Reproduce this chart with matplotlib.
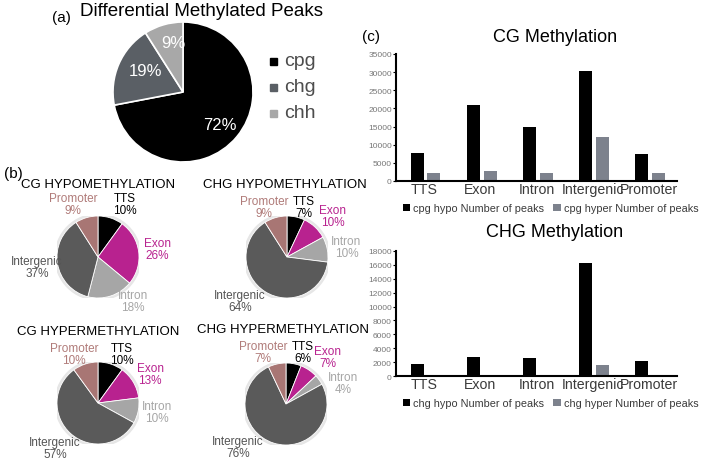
import matplotlib.pyplot as plt
import numpy as np

plt.rcParams['font.family'] = ['Liberation Sans', 'DejaVu Sans']

W, H = 709, 460

# (a) donnees globales
types = ['cpg', 'chg', 'chh']
type_pct = [72, 19, 9]
type_colors = ['#000000', '#5a5f65', '#a8a8a8']

# (b) repartition par region
regions = ['TTS', 'Exon', 'Intron', 'Intergenic', 'Promoter']
cg_hypo_pct = [10, 26, 18, 37, 9]
chg_hypo_pct = [7, 10, 10, 64, 9]
cg_hyper_pct = [10, 13, 10, 57, 10]
chg_hyper_pct = [6, 7, 4, 76, 7]
region_colors = ['#000000', '#b8228f', '#a6a6a6', '#5a5a5a', '#a87674']
label_colors = ['#000000', '#b8228f', '#a6a6a6', '#555555', '#b07b79']

# (c) nombre de pics
cpg_hypo = [7800, 21000, 14800, 30300, 7400]
cpg_hyper = [2100, 2800, 2200, 12000, 2300]
chg_hypo = [1800, 2700, 2650, 16300, 2200]
chg_hyper = [200, 200, 150, 1600, 200]

fig = plt.figure(figsize=(W / 100, H / 100), dpi=100)


def px_axes(x0, y0, x1, y1):
    # axes a partir de coordonnees en pixels (origine en haut a gauche)
    return fig.add_axes([x0 / W, 1 - y1 / H, (x1 - x0) / W, (y1 - y0) / H])


def pie_axes(cx, cy, r):
    ax = px_axes(cx - r, cy - r, cx + r, cy + r)
    return ax


# ---- (a) ----
fig.text(52 / W, 1 - 18 / H, '(a)', fontsize=11, ha='left', va='center')
fig.text(202 / W, 1 - 12 / H, 'Differential Methylated Peaks', fontsize=13.5,
         ha='center', va='center')
ax = pie_axes(183, 93, 70)
ax.pie(type_pct, colors=type_colors, startangle=90, counterclock=False,
       wedgeprops=dict(edgecolor='white', linewidth=1.2))
ax.set_xlim(-1, 1)
ax.set_ylim(-1, 1)
for txt, (x, y) in zip(['72%', '19%', '9%'], [(0.53, -0.46), (-0.53, 0.30), (-0.14, 0.71)]):
    ax.text(x, y, txt, color='white', fontsize=12, ha='center', va='center')
for i, (t, c) in enumerate(zip(types, type_colors)):
    yy = 62 + i * 26
    fig.patches.append(plt.Rectangle(((270) / W, 1 - (yy + 4) / H), 7 / W, 7 / H,
                                     transform=fig.transFigure, color=c))
    fig.text(284 / W, 1 - yy / H, t, fontsize=14, color='#4d4d4d', ha='left', va='center')

# ---- (b) ----
fig.text(4 / W, 1 - 174 / H, '(b)', fontsize=11, ha='left', va='center')

small_pies = [
    ('CG HYPOMETHYLATION', 98, 185, (98, 258), cg_hypo_pct,
     [(0.66, 1.29), (1.44, 0.2), (0.85, -1.07), (-1.49, -0.24), (-0.61, 1.29)]),
    ('CHG HYPOMETHYLATION', 285, 185, (287, 258), chg_hypo_pct,
     [(0.41, 1.22), (1.12, 1.0), (1.45, 0.25), (-1.15, -1.07), (-0.56, 1.22)]),
    ('CG HYPERMETHYLATION', 98, 332, (98, 404), cg_hyper_pct,
     [(0.59, 1.2), (1.27, 0.71), (1.44, -0.22), (-1.05, -1.1), (-0.59, 1.2)]),
    ('CHG HYPERMETHYLATION', 283, 330, (286, 405), chg_hyper_pct,
     [(0.41, 1.27), (1.02, 1.15), (1.39, 0.51), (-1.17, -1.05), (-0.56, 1.27)]),
]

for title, tx, ty, (cx, cy), pct, pos in small_pies:
    fig.text(tx / W, 1 - ty / H, title, fontsize=9.5, ha='center', va='center')
    ax = pie_axes(cx, cy, 41)
    # halo gris leger autour du camembert
    ax.add_patch(plt.Circle((0, 0), 1.05, color='#e6e6e6', zorder=0))
    ax.pie(pct, colors=region_colors, startangle=90, counterclock=False,
           wedgeprops=dict(edgecolor='white', linewidth=0.6))
    ax.set_xlim(-1, 1)
    ax.set_ylim(-1, 1)
    for name, p, (x, y), c in zip(regions, pct, pos, label_colors):
        ax.text(x, y, f'{name}\n{p}%', color=c, fontsize=8.5, ha='center', va='center',
                linespacing=0.95, clip_on=False)

# ---- (c) ----
fig.text(362 / W, 1 - 37 / H, '(c)', fontsize=11, ha='left', va='center')


def bar_chart(box, title, title_y, hypo, hyper, ymax, step, names):
    ax = px_axes(*box)
    x = np.arange(len(regions))
    w = 0.23
    ax.bar(x - w / 2 - 0.01, hypo, w, color='black', label=names[0])
    ax.bar(x + w / 2 + 0.06, hyper, w, color='#7d828d', label=names[1])
    ax.set_xlim(-0.5, len(regions) - 0.5)
    ax.set_ylim(0, ymax)
    ax.set_yticks(np.arange(0, ymax + 1, step))
    ax.set_xticks(x)
    ax.set_xticklabels(regions, fontsize=10.2, color='#3a3a3a')
    ax.tick_params(axis='y', labelsize=6, labelcolor='#777777', length=2, pad=1)
    ax.tick_params(axis='x', length=0, pad=1)
    for s in ['top', 'right']:
        ax.spines[s].set_visible(False)
    for s in ['left', 'bottom']:
        ax.spines[s].set_linewidth(1.5)
    ax.legend(loc='upper center', bbox_to_anchor=(0.55, -0.1), ncol=2, frameon=False,
              fontsize=7.8, handlelength=0.7, handleheight=0.7, columnspacing=0.8,
              handletextpad=0.3, labelcolor='#3a3a3a')
    fig.text(555 / W, 1 - title_y / H, title, fontsize=13, ha='center', va='center')
    return ax


bar_chart((396, 55, 677, 182), 'CG Methylation', 37, cpg_hypo, cpg_hyper, 35000, 5000,
          ['cpg hypo Number of peaks', 'cpg hyper Number of peaks'])
bar_chart((396, 252, 677, 377), 'CHG Methylation', 233, chg_hypo, chg_hyper, 18000, 2000,
          ['chg hypo Number of peaks', 'chg hyper Number of peaks'])

fig.savefig('out.png', dpi=100)
